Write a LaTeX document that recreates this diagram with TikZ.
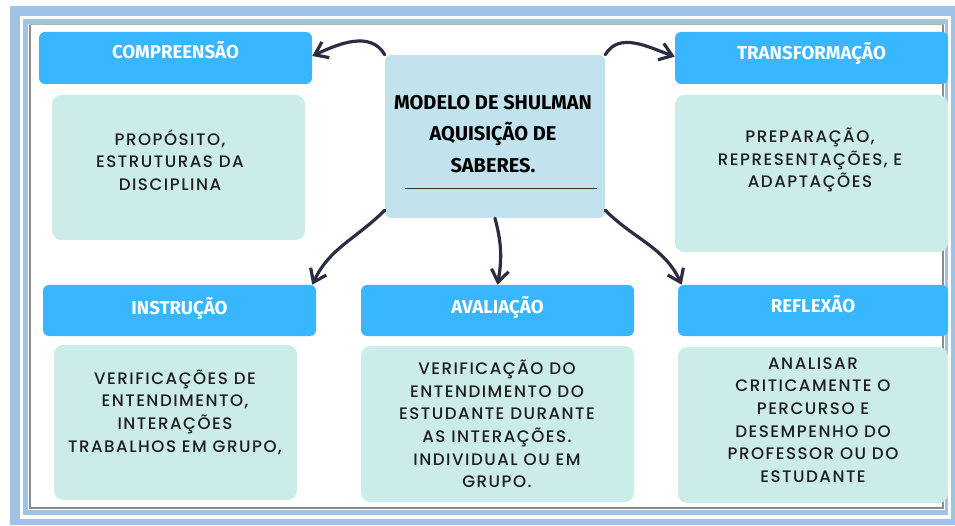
\documentclass[tikz,border=0pt]{standalone}
\usepackage{fontspec}
\usetikzlibrary{arrows.meta}
\newfontfamily\headfont{Fira Sans}
\newfontfamily\bodyfont{Poppins Medium}[LetterSpace=9]
\definecolor{frameblue}{HTML}{9DC3E6}
\definecolor{headblue}{HTML}{38B6FF}
\definecolor{bodyteal}{HTML}{CCECEA}
\definecolor{centreblue}{HTML}{C2E3ED}
\definecolor{arrownavy}{HTML}{2B2D42}
\definecolor{textdark}{HTML}{1E1E1E}
\newcommand{\headlift}[2]{\raisebox{#1}[0pt][0pt]{#2}}
\begin{document}
\begin{tikzpicture}
		[x=0.75pt, y=0.75pt,
		every node/.style={inner sep=0pt},
		header/.style={fill=headblue, rounded corners=4.5pt, minimum width=204.75pt, minimum height=39pt,
			text=white, font=\headfont\bfseries\fontsize{14}{16}\selectfont},
		bodybox/.style={fill=bodyteal, rounded corners=7pt, minimum width=204.75pt, minimum height=117pt},
		bodytext/.style={align=center, text=textdark, font=\bodyfont\fontsize{12.5}{17}\selectfont},
		>={Straight Barb[length=9pt,width=13pt]},
		link/.style={->, arrownavy, line width=2.4pt, line cap=round}]
		\useasboundingbox (0,0) rectangle (955,525);
		
		% frame
		\fill[frameblue] (10,0) rectangle (955,519);
		\fill[white] (20,6) rectangle (951,509);
		\fill[frameblue] (23,10) rectangle (948,506);
		\fill[white] (28,15) rectangle (945,501);
		\draw[black!45, line width=2pt] (30,500) -- (30,17) -- (943,17) -- (943,500);
		\draw[black!30, line width=0.8pt] (29,500.5) -- (944,500.5);
		
		% centre
		\node[fill=centreblue, rounded corners=4.5pt, minimum width=165pt, minimum height=122.25pt] (centre) at (495,388.5) {};
		\node[align=center, font=\headfont\bfseries\fontsize{15}{23.5}\selectfont] (title) at (493,391)
			{MODELO DE SHULMAN\\AQUISIÇÃO DE\\SABERES.};
		\draw[black!80, line width=0.8pt] ([xshift=15pt, yshift=22.5pt]centre.south west) -- ([xshift=-6pt, yshift=22.5pt]centre.south east);
		
		% headers
		\node[header] (comp) at (175.5,467) {\headlift{-0.4pt}{COMPREENSÃO}};
		\node[header] (transf) at (811.5,467) {\headlift{-1.1pt}{TRANSFORMAÇÃO}};
		\node[header, minimum height=38.25pt] (instr) at (179.5,214.5) {\headlift{-3pt}{INSTRUÇÃO}};
		\node[header, minimum height=38.25pt] (aval) at (497.5,214.5) {\headlift{-2.3pt}{AVALIAÇÃO}};
		\node[header, minimum height=38.25pt, minimum width=202.5pt] (refl) at (813,214.5) {\headlift{-1.5pt}{REFLEXÃO}};
		
		% bodies
		\node[bodybox, minimum width=189.75pt, minimum height=108.75pt] (compbody) at (178.5,357.5) {};
		\node[bodybox, minimum height=117.75pt] (transfbody) at (811.5,351.5) {};
		\node[bodybox, minimum width=182.25pt, minimum height=116.25pt] (instrbody) at (175.5,102.5) {};
		\node[bodybox] (avalbody) at (497.5,101) {};
		\node[bodybox, minimum width=202.5pt] (reflbody) at (813,100) {};
		
		\node[bodytext] (comptext) at (170,365) {PROPÓSITO,\\ESTRUTURAS DA\\DISCIPLINA};
		\node[bodytext] (transftext) at (810,365) {PREPARAÇÃO,\\REPRESENTAÇÕES, E\\ADAPTAÇÕES};
		\node[bodytext] (instrtext) at (175,113) {VERIFICAÇÕES DE\\ENTENDIMENTO,\\INTERAÇÕES\\TRABALHOS EM GRUPO,};
		\node[bodytext] (avaltext) at (497,101) {VERIFICAÇÃO DO\\ENTENDIMENTO DO\\ESTUDANTE DURANTE\\AS INTERAÇÕES.\\INDIVIDUAL OU EM\\GRUPO.};
		\node[bodytext] (refltext) at (813,105) {ANALISAR\\CRITICAMENTE O\\PERCURSO E\\DESEMPENHO DO\\PROFESSOR OU DO\\ESTUDANTE};
		
		% arrows
		\path[link] (centre.north west) edge[out=120, in=25] ([yshift=1.5pt]comp.east);
		\path[link] (centre.north east) edge[out=60, in=160] ([yshift=1pt]transf.west);
		\path[link] ([yshift=6pt]centre.south west) edge[out=-135, in=65] ([xshift=-3pt]instr.north east);
		\path[link] (centre.south) edge[out=-75, in=80] (aval.north);
		\path[link] ([yshift=6pt]centre.south east) edge[out=-45, in=115] ([xshift=3pt]refl.north west);
		\end{tikzpicture}
\end{document}
